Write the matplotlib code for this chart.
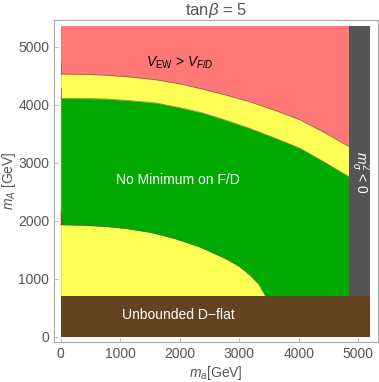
import numpy as np
import matplotlib
matplotlib.use("Agg")
import matplotlib.pyplot as plt

plt.rcParams['font.family'] = ['Liberation Sans', 'DejaVu Sans']
plt.rcParams['mathtext.fontset'] = 'custom'
plt.rcParams['mathtext.rm'] = 'Liberation Sans'
plt.rcParams['mathtext.it'] = 'Liberation Sans:italic'

# region boundaries (GeV)
x_max = 5190
y_max = 5350
d_flat = 700          # below this: unbounded D-flat
m_sigma_neg = 4840    # right of this: m_sigma^2 < 0

# red / yellow boundary (upper)
x_up = [0, 375, 750, 1175, 1600, 2000, 2380, 2780, 3180, 3600, 4020, 4430, 4840]
y_up = [4530, 4525, 4510, 4477, 4430, 4360, 4270, 4165, 4050, 3902, 3740, 3520, 3280]
# yellow / green boundary (upper)
x_gr = [0, 375, 750, 1175, 1600, 2000, 2380, 2780, 3180, 3600, 4020, 4430, 4840]
y_gr = [4110, 4107, 4100, 4070, 4030, 3950, 3860, 3730, 3590, 3425, 3250, 3010, 2760]
# green / yellow boundary (lower)
x_lo = [0, 400, 750, 1100, 1500, 1920, 2340, 2760, 3000, 3180, 3330, 3440]
y_lo = [1930, 1920, 1900, 1865, 1800, 1690, 1545, 1350, 1210, 1060, 900, 700]

c_red = '#ff7777'
c_yel = '#ffff55'
c_grn = '#00aa00'
c_brn = '#654321'
c_gry = '#555555'
c_edge = '#555533'

fig = plt.figure(figsize=(3.79, 3.82), dpi=100)
ax = fig.add_axes([0.1425, 0.105, 0.855, 0.8425])

xs = np.linspace(0, m_sigma_neg, 600)
up = np.interp(xs, x_up, y_up)
gr = np.interp(xs, x_gr, y_gr)
lo = np.interp(xs, x_lo, y_lo, right=d_flat)
lo = np.maximum(lo, d_flat)

ax.fill_between([0, m_sigma_neg], d_flat, y_max, color=c_red, lw=0)
ax.fill_between(xs, d_flat, up, color=c_yel, lw=0)
ax.fill_between(xs, lo, gr, color=c_grn, lw=0)
ax.fill_between([m_sigma_neg, x_max], d_flat, y_max, color=c_gry, lw=0)
ax.fill_between([0, x_max], 0, d_flat, color=c_brn, lw=0)

for xx, yy in [(x_up, y_up), (x_gr, y_gr), (x_lo, y_lo)]:
    ax.plot(xx, yy, color=c_edge, lw=0.5, alpha=0.7)

# small artefacts on the left edge
ax.plot([0, 0], [4530, 4720], color='#777777', lw=0.7)
ax.plot([0, 0], [4110, 4290], color='#777777', lw=0.7)
ax.fill([0, 0, 45], [1930, 2220, 1930], color='#6b5a1e', lw=0)

ax.text(2000, 4730, r'$V_{\rm EW}$ > $V_{F/D}$', fontsize=10, color='black',
        ha='center', va='center')
ax.text(1970, 2700, 'No Minimum on F/D', fontsize=10, color='white',
        ha='center', va='center')
ax.text(1970, 370, 'Unbounded D\u2212flat', fontsize=10, color='white',
        ha='center', va='center')
ax.text(5030, 2830, r'$m_\sigma^2$ < 0', fontsize=10, color='white',
        ha='center', va='center', rotation=-90)

ax.set_xlim(-113, 5333)
ax.set_ylim(-91, 5460)
ax.set_xticks([0, 1000, 2000, 3000, 4000, 5000])
ax.set_yticks([0, 1000, 2000, 3000, 4000, 5000])
ax.tick_params(colors='#aaaaaa', labelcolor='#555555', labelsize=10,
               direction='in', length=3, width=0.6)
for s in ax.spines.values():
    s.set_color('#aaaaaa')
    s.set_linewidth(0.8)

ax.set_title(r'tan$\beta$ = 5', fontsize=12, color='#555555', pad=2)
ax.set_xlabel(r'$m_a$[GeV]', fontsize=10, color='#555555', labelpad=2)
ax.set_ylabel(r'$m_A$ [GeV]', fontsize=10, color='#555555')
ax.yaxis.set_label_coords(-0.112, 0.5)

fig.savefig('out.png', dpi=100)
